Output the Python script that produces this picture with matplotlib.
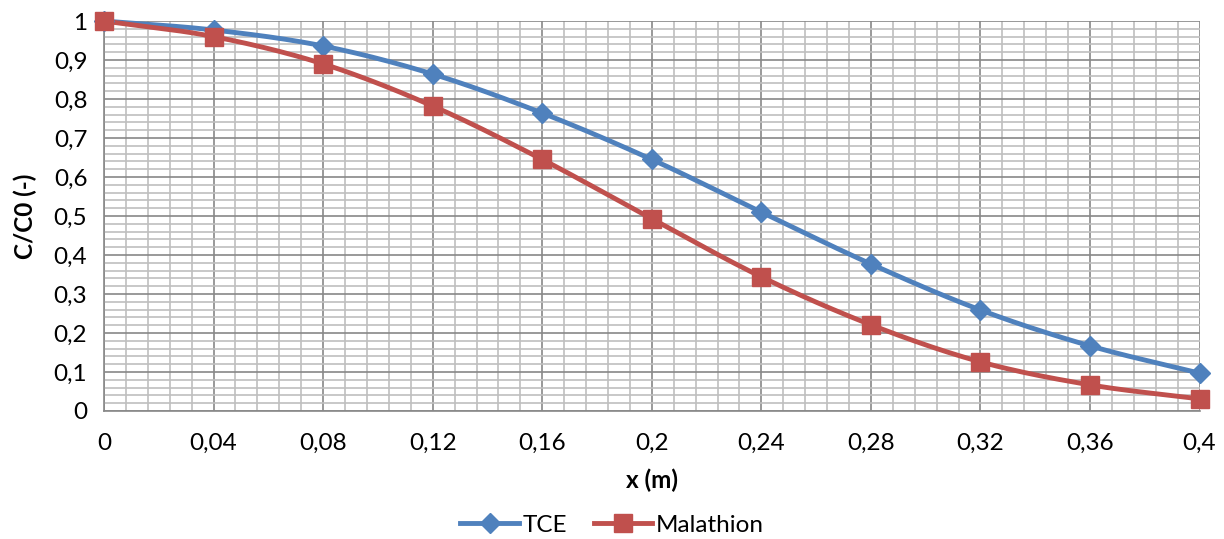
import matplotlib.pyplot as plt
import numpy as np
from matplotlib.ticker import MultipleLocator, FuncFormatter

# data
x = [0, 0.04, 0.08, 0.12, 0.16, 0.2, 0.24, 0.28, 0.32, 0.36, 0.4]
tce = [1.0, 0.977, 0.936, 0.864, 0.764, 0.645, 0.51, 0.377, 0.259, 0.167, 0.097]
malathion = [1.0, 0.96, 0.89, 0.782, 0.645, 0.493, 0.344, 0.221, 0.126, 0.067, 0.031]

blue = '#4F81BD'
red = '#C0504D'


def smooth(xs, ys, n=20):
    # catmull-rom style curve through the points, like excel's smoothed line
    xs = np.asarray(xs, float)
    ys = np.asarray(ys, float)
    px = np.concatenate([[2 * xs[0] - xs[1]], xs, [2 * xs[-1] - xs[-2]]])
    py = np.concatenate([[2 * ys[0] - ys[1]], ys, [2 * ys[-1] - ys[-2]]])
    ox, oy = [], []
    t = np.linspace(0, 1, n, endpoint=False)
    for i in range(1, len(px) - 2):
        for arr, out in ((px, ox), (py, oy)):
            p0, p1, p2, p3 = arr[i - 1], arr[i], arr[i + 1], arr[i + 2]
            out.extend(0.5 * (2 * p1 + (-p0 + p2) * t
                              + (2 * p0 - 5 * p1 + 4 * p2 - p3) * t ** 2
                              + (-p0 + 3 * p1 - 3 * p2 + p3) * t ** 3))
    ox.append(xs[-1])
    oy.append(ys[-1])
    return ox, oy


plt.rcParams['font.family'] = ['Lato', 'DejaVu Sans']
fs = 17.5

fig = plt.figure(figsize=(12.24, 5.39), dpi=100)
ax = fig.add_axes([0.085, 0.2375, 0.895, 0.7235])

sx, sy = smooth(x, tce)
ax.plot(sx, sy, color=blue, lw=3.5, zorder=3, clip_on=False)
ax.plot(x, tce, 'D', color=blue, ms=10, zorder=4, clip_on=False)
sx, sy = smooth(x, malathion)
ax.plot(sx, sy, color=red, lw=3.5, zorder=3, clip_on=False)
ax.plot(x, malathion, 's', color=red, ms=13, zorder=5, clip_on=False)

# legend handles
ax.plot([], [], color=blue, lw=3.5, marker='D', ms=10, label='TCE')
ax.plot([], [], color=red, lw=3.5, marker='s', ms=13, label='Malathion')

ax.set_xlim(0, 0.4)
ax.set_ylim(0, 1)
ax.xaxis.set_major_locator(MultipleLocator(0.04))
ax.xaxis.set_minor_locator(MultipleLocator(0.008))
ax.yaxis.set_major_locator(MultipleLocator(0.1))
ax.yaxis.set_minor_locator(MultipleLocator(0.02))
fmt = FuncFormatter(lambda v, p: ('%g' % round(v, 2)).replace('.', ','))
ax.xaxis.set_major_formatter(fmt)
ax.yaxis.set_major_formatter(fmt)
ax.grid(which='major', color='#888888', lw=1.2)
ax.grid(which='minor', color='#bfbfbf', lw=1.2)
ax.set_axisbelow(True)
ax.tick_params(which='both', length=0, labelsize=fs, colors='black')
ax.tick_params(axis='x', pad=16)
ax.tick_params(axis='y', pad=12)
for s in ['top', 'right']:
    ax.spines[s].set_visible(False)
for s in ['left', 'bottom']:
    ax.spines[s].set_color('#888888')
    ax.spines[s].set_linewidth(1.2)

ax.set_xlabel('x (m)', fontsize=fs, fontweight='bold', labelpad=10)
ax.set_ylabel('C/C0 (-)', fontsize=fs, fontweight='bold', labelpad=12)

fig.legend(loc='lower center', bbox_to_anchor=(0.5, -0.035), ncol=2, frameon=False,
           fontsize=fs, handlelength=2.4, columnspacing=1.1, handletextpad=0.15)

fig.savefig('out.png', dpi=100)
